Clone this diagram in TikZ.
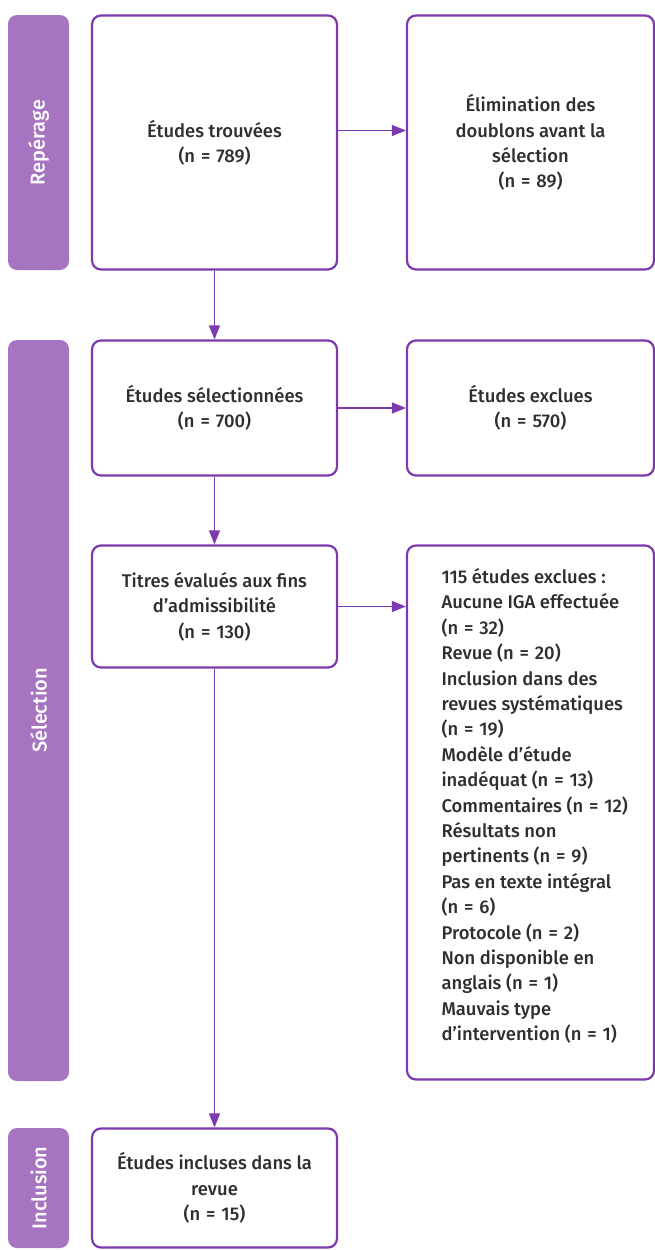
\documentclass[tikz,border=0pt]{standalone}
\usepackage{fontspec}
\setmainfont{Fira Sans Medium}
\usetikzlibrary{arrows.meta}
\definecolor{bord}{HTML}{7D3AAE}
\definecolor{side}{HTML}{A674C1}
\definecolor{txt}{HTML}{2E2E2E}
\newcommand{\eqn}{\hspace{0.32em}=\hspace{0.32em}}
\tikzset{
  sidebar/.style={fill=side, rounded corners=9pt, minimum width=61pt, draw=none},
  sidetext/.style={text=white, font=\fontsize{20}{22}\selectfont, rotate=90},
  boxnode/.style={draw=bord, line width=2.2pt, rounded corners=9pt, fill=white},
  boxtext/.style={text=txt, align=center, font=\fontsize{18.4}{25.4}\selectfont},
  conn/.style={draw=bord, line width=1.4pt, -{Triangle[length=14pt,width=11pt]}}
}
\begin{document}
\begin{tikzpicture}[x=1pt,y=-1pt]
\useasboundingbox (0,0) rectangle (655,1250);
% sidebars
\node[sidebar, minimum height=255pt] (s1) at (38.5,142.5) {};
\node[sidetext] at (s1) {Repérage};
\node[sidebar, minimum height=741pt] (s2) at (38.5,710.5) {};
\node[sidetext] at (s2) {Sélection};
\node[sidebar, minimum height=120pt] (s3) at (38.5,1188) {};
\node[sidetext] at (s3) {Inclusion};
% boxes
\node[boxnode, minimum width=245pt, minimum height=254pt] (b1) at (214.5,142.5) {};
\node[boxtext] at (b1) {Études trouvées\\(n\eqn 789)};
\node[boxnode, minimum width=247pt, minimum height=254pt] (b2) at (530.5,142.5) {};
\node[boxtext] at (b2) {Élimination des\\doublons avant la\\sélection\\(n\eqn 89)};
\node[boxnode, minimum width=245pt, minimum height=135pt] (b3) at (214.5,408) {};
\node[boxtext] at (b3) {Études sélectionnées\\(n\eqn 700)};
\node[boxnode, minimum width=247pt, minimum height=135pt] (b4) at (530.5,408) {};
\node[boxtext] at (b4) {Études exclues\\(n\eqn 570)};
\node[boxnode, minimum width=245pt, minimum height=122pt] (b5) at (214.5,606.5) {};
\node[boxtext] at (b5) {Titres évalués aux fins\\d'admissibilité\\(n\eqn 130)};
\node[boxnode, minimum width=247pt, minimum height=534pt] (b6) at (530.5,812.5) {};
\node[boxtext, align=left, anchor=west] at (438,806) {115 études exclues :\\Aucune IGA effectuée\\(n\eqn 32)\\Revue (n\eqn 20)\\Inclusion dans des\\revues systématiques\\(n\eqn 19)\\Modèle d’étude\\inadéquat (n\eqn 13)\\Commentaires (n\eqn 12)\\Résultats non\\pertinents (n\eqn 9)\\Pas en texte intégral\\(n\eqn 6)\\Protocole (n\eqn 2)\\Non disponible en\\anglais (n\eqn 1)\\Mauvais type\\d’intervention (n\eqn 1)};
\node[boxnode, minimum width=245pt, minimum height=119pt] (b7) at (214.5,1188) {};
\node[boxtext] at (b7) {Études incluses dans la\\revue\\(n\eqn 15)};
% connectors
\draw[conn] (b1.east |- 0,130.5) -- (b2.west |- 0,130.5);
\draw[conn] (b3.east) -- (b4.west);
\draw[conn] (b5.east) -- (b6.west |- b5.east);
\draw[conn] (b1.south) -- (b3.north);
\draw[conn] (b3.south) -- (b5.north);
\draw[conn] (b5.south) -- (b7.north);
\end{tikzpicture}
\end{document}
